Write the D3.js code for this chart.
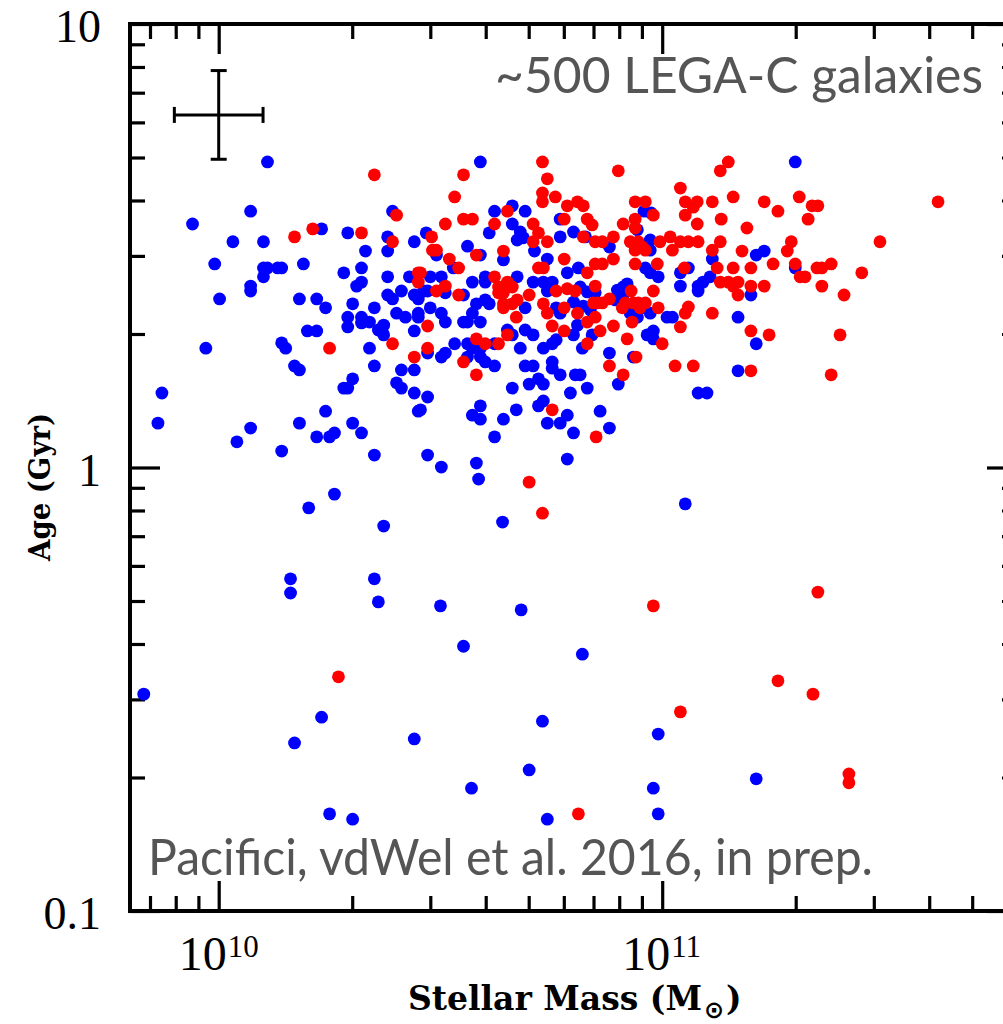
<!DOCTYPE html>
<html>
<head>
<meta charset="utf-8">
<script src="https://cdn.jsdelivr.net/npm/d3@7"></script>
<style>
  html, body { margin: 0; padding: 0; background: #fff; }
  svg { display: block; }
</style>
</head>
<body>
<svg id="chart" width="1003" height="1024"></svg>
<script>
// Each galaxy: [log10 stellar mass (Msun), log10 age (Gyr)]
const blueGalaxies = [
  [10.110,0.689],[10.072,0.578],[10.392,0.578],[9.941,0.549],[10.232,0.538],[10.291,0.529],
  [10.032,0.509],[10.101,0.509],[10.381,0.520],[10.441,0.509],[10.468,0.529],[10.331,0.488],
  [10.381,0.488],[9.991,0.459],[10.191,0.459],[10.101,0.450],[10.110,0.450],[10.133,0.450],
  [10.142,0.450],[10.101,0.430],[10.282,0.439],[10.322,0.450],[10.381,0.430],[10.430,0.430],
  [10.477,0.430],[10.072,0.409],[10.072,0.398],[10.322,0.418],[10.311,0.409],[10.002,0.380],
  [10.182,0.380],[10.221,0.380],[10.241,0.360],[10.302,0.369],[10.381,0.389],[10.392,0.380],
  [10.412,0.398],[10.441,0.389],[10.450,0.380],[10.462,0.398],[10.351,0.360],[10.477,0.360],
  [10.291,0.339],[10.291,0.317],[10.322,0.339],[10.322,0.326],[10.340,0.328],[10.372,0.321],
  [10.360,0.310],[10.372,0.299],[10.401,0.348],[10.421,0.339],[10.450,0.348],[10.450,0.339],
  [10.441,0.308],[10.200,0.308],[10.221,0.308],[10.142,0.281],[10.151,0.269],[9.971,0.269],
  [10.340,0.269],[10.471,0.258],[10.351,0.229],[10.171,0.229],[10.182,0.220],[10.412,0.220],
  [10.441,0.220],[10.302,0.200],[10.282,0.179],[10.291,0.179],[10.401,0.191],[10.412,0.179],
  [10.441,0.168],[10.471,0.159],[9.872,0.168],[10.241,0.127],[10.450,0.127],[9.863,0.100],
  [10.072,0.089],[10.182,0.100],[10.302,0.100],[10.322,0.078],[10.221,0.069],[10.250,0.069],
  [10.261,0.078],[10.041,0.058],[10.142,0.037],[10.351,0.028],[10.471,0.028],
  [10.590,0.689],[10.622,0.578],[10.662,0.590],[10.691,0.578],[10.662,0.549],[10.770,0.560],
  [10.610,0.529],[10.680,0.531],[10.673,0.513],[10.687,0.518],[10.770,0.520],[10.561,0.499],
  [10.491,0.479],[10.590,0.479],[10.642,0.468],[10.712,0.488],[10.741,0.470],[10.529,0.450],
  [10.786,0.439],[10.502,0.430],[10.572,0.418],[10.601,0.430],[10.601,0.418],[10.673,0.430],
  [10.709,0.418],[10.732,0.418],[10.752,0.418],[10.471,0.398],[10.741,0.398],[10.511,0.394],
  [10.552,0.389],[10.601,0.378],[10.610,0.369],[10.581,0.369],[10.691,0.360],[10.761,0.360],
  [10.770,0.348],[10.502,0.348],[10.511,0.328],[10.572,0.348],[10.590,0.328],[10.552,0.328],
  [10.561,0.328],[10.651,0.310],[10.662,0.299],[10.691,0.310],[10.709,0.299],[10.561,0.279],
  [10.572,0.269],[10.590,0.269],[10.622,0.279],[10.532,0.279],[10.680,0.269],[10.732,0.269],
  [10.752,0.279],[10.761,0.288],[10.511,0.258],[10.502,0.249],[10.561,0.249],[10.590,0.249],
  [10.601,0.238],[10.622,0.229],[10.752,0.238],[10.752,0.224],[10.691,0.229],[10.709,0.229],
  [10.770,0.209],[10.700,0.188],[10.721,0.200],[10.732,0.188],[10.662,0.179],[10.455,0.130],
  [10.590,0.139],[10.572,0.118],[10.590,0.109],[10.642,0.109],[10.671,0.130],[10.721,0.139],
  [10.732,0.150],[10.741,0.100],[10.770,0.100],[10.786,0.118],[10.622,0.069],[10.502,0.001],
  [10.581,0.010],[10.786,0.019],
  [10.959,0.578],[10.975,0.574],[10.944,0.536],[10.800,0.531],[10.827,0.520],[10.881,0.497],
  [10.973,0.513],[10.973,0.490],[11.113,0.470],[10.811,0.450],[10.962,0.450],[10.973,0.439],
  [10.991,0.430],[11.059,0.450],[11.041,0.439],[11.041,0.409],[11.108,0.430],[11.092,0.418],
  [11.081,0.409],[11.081,0.398],[10.815,0.407],[10.831,0.396],[10.849,0.394],[10.899,0.400],
  [10.912,0.407],[10.921,0.414],[10.894,0.378],[10.912,0.389],[10.910,0.371],[10.800,0.373],
  [10.822,0.364],[10.838,0.355],[10.928,0.348],[10.944,0.339],[10.973,0.348],[10.955,0.360],
  [11.011,0.339],[11.023,0.339],[10.809,0.321],[10.800,0.299],[10.842,0.299],[10.966,0.299],
  [10.980,0.308],[10.980,0.290],[10.820,0.269],[10.881,0.258],[10.935,0.249],[10.901,0.188],
  [10.804,0.209],[10.815,0.209],[10.793,0.168],[10.831,0.179],[11.081,0.168],[11.101,0.168],
  [10.860,0.127],[10.800,0.078],[10.881,0.089],
  [11.300,0.689],[11.212,0.479],[11.230,0.488],[11.300,0.450],[11.200,0.389],[11.171,0.339],
  [11.212,0.279],[11.171,0.218],
  [10.586,-0.026],[10.261,-0.060],[10.203,-0.091],[10.640,-0.123],[10.372,-0.132],
  [10.162,-0.251],[10.162,-0.283],[10.351,-0.251],[10.360,-0.303],[10.500,-0.312],
  [10.682,-0.321],[10.552,-0.403],[9.831,-0.511],[10.232,-0.563],[10.730,-0.572],
  [10.171,-0.621],[10.441,-0.612],[10.700,-0.682],[10.570,-0.723],[10.250,-0.781],
  [10.302,-0.793],[10.741,-0.793],[11.052,-0.082],[10.820,-0.421],[10.991,-0.601],
  [11.212,-0.702],[10.980,-0.723],[10.991,-0.781]
];

const redGalaxies = [
  [10.351,0.660],[10.401,0.569],[10.212,0.538],[10.171,0.520],[10.322,0.529],[10.392,0.509],
  [10.480,0.520],[10.482,0.490],[10.491,0.490],[10.450,0.439],[10.450,0.418],[10.471,0.319],
  [10.250,0.269],[10.392,0.279],[10.441,0.249],[10.471,0.269],
  [10.730,0.689],[10.552,0.660],[10.741,0.651],[10.532,0.610],[10.730,0.619],[10.730,0.599],
  [10.759,0.610],[10.786,0.590],[10.651,0.578],[10.511,0.549],[10.552,0.560],[10.572,0.560],
  [10.622,0.549],[10.709,0.549],[10.779,0.560],[10.721,0.529],[10.709,0.509],[10.741,0.509],
  [10.581,0.479],[10.642,0.488],[10.779,0.470],[10.520,0.470],[10.541,0.450],[10.721,0.450],
  [10.732,0.450],[10.455,0.439],[10.622,0.430],[10.631,0.407],[10.651,0.418],[10.662,0.407],
  [10.642,0.394],[10.631,0.394],[10.511,0.409],[10.491,0.398],[10.761,0.398],[10.786,0.403],
  [10.541,0.389],[10.700,0.389],[10.673,0.378],[10.642,0.369],[10.662,0.369],[10.642,0.360],
  [10.732,0.369],[10.779,0.360],[10.741,0.348],[10.671,0.339],[10.752,0.319],[10.779,0.308],
  [10.651,0.299],[10.581,0.290],[10.601,0.279],[10.631,0.279],[10.552,0.238],[10.581,0.209],
  [10.752,0.130],
  [10.901,0.669],[11.041,0.630],[10.809,0.599],[10.822,0.590],[10.939,0.599],[10.962,0.599],
  [11.052,0.599],[11.079,0.599],[11.113,0.599],[11.070,0.587],[10.980,0.569],[11.052,0.569],
  [10.831,0.560],[10.842,0.547],[10.912,0.549],[10.939,0.560],[10.939,0.540],[11.079,0.549],
  [10.822,0.520],[10.849,0.509],[10.865,0.509],[10.890,0.520],[10.928,0.509],[10.946,0.509],
  [10.955,0.497],[10.939,0.490],[10.962,0.490],[10.995,0.509],[11.018,0.520],[11.023,0.490],
  [11.041,0.509],[11.059,0.509],[11.081,0.509],[11.113,0.490],[10.849,0.459],[10.865,0.459],
  [10.890,0.470],[10.939,0.459],[10.989,0.459],[10.831,0.439],[11.050,0.450],[10.804,0.398],
  [10.849,0.409],[10.930,0.398],[10.980,0.398],[10.881,0.380],[10.854,0.371],[10.865,0.371],
  [10.845,0.371],[10.809,0.348],[10.831,0.328],[10.849,0.339],[10.917,0.371],[10.935,0.371],
  [10.946,0.371],[10.962,0.371],[10.910,0.360],[10.950,0.360],[10.991,0.360],[11.052,0.348],
  [11.059,0.362],[11.113,0.348],[11.041,0.317],[10.932,0.328],[10.860,0.308],[10.890,0.319],
  [10.921,0.290],[11.000,0.279],[10.831,0.279],[10.941,0.249],[10.881,0.229],[11.029,0.229],
  [11.070,0.229],[10.912,0.209],[10.851,0.069],
  [11.149,0.689],[11.131,0.669],[11.160,0.610],[11.230,0.599],[11.261,0.578],[11.309,0.610],
  [11.338,0.590],[11.351,0.590],[11.133,0.560],[11.191,0.540],[11.329,0.560],[11.131,0.509],
  [11.180,0.488],[11.291,0.509],[11.282,0.488],[11.124,0.450],[11.160,0.450],[11.200,0.450],
  [11.250,0.459],[11.300,0.459],[11.311,0.430],[11.322,0.430],[11.349,0.450],[11.360,0.450],
  [11.381,0.459],[11.450,0.439],[11.131,0.418],[11.149,0.418],[11.171,0.418],[11.160,0.409],
  [11.200,0.409],[11.230,0.409],[11.171,0.389],[11.360,0.409],[11.410,0.389],[11.200,0.308],
  [11.241,0.299],[11.401,0.299],[11.200,0.218],[11.381,0.209],[11.622,0.599],[11.491,0.509],
  [10.700,-0.033],[10.730,-0.103],[10.270,-0.472],[10.980,-0.312],[11.351,-0.281],
  [11.261,-0.481],[11.340,-0.511],[11.041,-0.551],[11.421,-0.691],[11.421,-0.711],
  [10.811,-0.781]
];

// Axis ticks
const xMajorTicks = [1e10, 1e11];
const xMajorExponents = ["10", "11"];
const xMinorTicks = [7e9, 8e9, 9e9, 2e10, 3e10, 4e10, 5e10, 6e10, 7e10, 8e10, 9e10,
                     2e11, 3e11, 4e11, 5e11, 6e11];
const yMajorTicks = [0.1, 1, 10];
const yMajorLabels = ["0.1", "1", "10"];
const yMinorTicks = [0.2, 0.3, 0.4, 0.5, 0.6, 0.7, 0.8, 0.9, 2, 3, 4, 5, 6, 7, 8, 9];

// Typical uncertainty (dex) shown as a cross in the corner
const typicalError = { logMass: 10.0, logAge: 0.795, dex: 0.1 };

const svg = d3.select("#chart");
const plotLeft = 130, plotRight = 1017, plotTop = 24, plotBottom = 911;

const x = d3.scaleLog().domain([10 ** 9.8, 10 ** 11.8]).range([plotLeft, plotRight]);
const y = d3.scaleLog().domain([0.1, 10]).range([plotBottom, plotTop]);

const MAJOR = 30, MINOR = 15;

function tickGroup(axis, transform) {
  const g = svg.append("g").attr("transform", transform).call(axis);
  g.select(".domain").remove();
  g.selectAll(".tick line").attr("stroke", "#000").attr("stroke-width", 3.2);
  g.selectAll(".tick text").remove();
  return g;
}

// Inward-pointing ticks on all four sides
[[xMajorTicks, MAJOR], [xMinorTicks, MINOR]].forEach(([vals, len]) => {
  tickGroup(d3.axisBottom(x).tickValues(vals).tickSize(-len).tickFormat(""), `translate(0,${plotBottom})`);
  tickGroup(d3.axisTop(x).tickValues(vals).tickSize(-len).tickFormat(""), `translate(0,${plotTop})`);
});
[[yMajorTicks, MAJOR], [yMinorTicks, MINOR]].forEach(([vals, len]) => {
  tickGroup(d3.axisLeft(y).tickValues(vals).tickSize(-len).tickFormat(""), `translate(${plotLeft},0)`);
  tickGroup(d3.axisRight(y).tickValues(vals).tickSize(-len).tickFormat(""), `translate(${plotRight},0)`);
});

// Frame
svg.append("rect")
  .attr("x", plotLeft).attr("y", plotTop)
  .attr("width", plotRight - plotLeft).attr("height", plotBottom - plotTop)
  .attr("fill", "none").attr("stroke", "#000").attr("stroke-width", 4);

// Y tick labels
svg.append("g").selectAll("text")
  .data(yMajorTicks)
  .join("text")
  .attr("x", 101)
  .attr("y", d => y(d) + 18)
  .attr("text-anchor", "end")
  .attr("font-family", "'Liberation Serif', serif")
  .attr("font-size", 46)
  .attr("fill", "#000")
  .text((d, i) => yMajorLabels[i]);

// X tick labels: 10^n
const xl = svg.append("g").selectAll("text")
  .data(xMajorTicks)
  .join("text")
  .attr("x", d => x(d) - 40)
  .attr("y", 970)
  .attr("font-family", "'Liberation Serif', serif")
  .attr("font-size", 48)
  .attr("fill", "#000");
xl.append("tspan").text("10");
xl.append("tspan")
  .attr("font-size", 31)
  .attr("dy", -13)
  .attr("dx", 1)
  .text((d, i) => xMajorExponents[i]);

// Axis titles
const titleFont = "'DejaVu Serif', serif";
svg.append("text")
  .attr("x", 408).attr("y", 1010)
  .attr("font-family", titleFont).attr("font-weight", "bold")
  .attr("font-size", 33)
  .attr("textLength", 294).attr("lengthAdjust", "spacingAndGlyphs")
  .text("Stellar Mass (M");
svg.append("text")
  .attr("x", 714).attr("y", 1018)
  .attr("text-anchor", "middle")
  .attr("font-family", "'DejaVu Sans', sans-serif").attr("font-weight", "bold")
  .attr("font-size", 24)
  .text("\u2299");
svg.append("text")
  .attr("x", 726).attr("y", 1010)
  .attr("font-family", titleFont).attr("font-weight", "bold")
  .attr("font-size", 33)
  .text(")");

svg.append("text")
  .attr("transform", "translate(50,487) rotate(-90)")
  .attr("text-anchor", "middle")
  .attr("font-family", titleFont).attr("font-weight", "bold")
  .attr("font-size", 30)
  .attr("textLength", 148).attr("lengthAdjust", "spacingAndGlyphs")
  .text("Age (Gyr)");

// Annotations
svg.append("text")
  .attr("x", 495).attr("y", 93)
  .attr("font-family", "Lato, 'Open Sans', sans-serif")
  .attr("font-size", 50).attr("fill", "#555")
  .attr("textLength", 488).attr("lengthAdjust", "spacingAndGlyphs")
  .text("~500 LEGA-C galaxies");
svg.append("text")
  .attr("x", 148).attr("y", 875)
  .attr("font-family", "Lato, 'Open Sans', sans-serif")
  .attr("font-size", 50).attr("fill", "#555")
  .attr("textLength", 725).attr("lengthAdjust", "spacingAndGlyphs")
  .text("Pacifici, vdWel et al. 2016, in prep.");

// Typical error cross
const ex = x(10 ** typicalError.logMass), ey = y(10 ** typicalError.logAge);
const ex0 = x(10 ** (typicalError.logMass - typicalError.dex));
const ex1 = x(10 ** (typicalError.logMass + typicalError.dex));
const ey0 = y(10 ** (typicalError.logAge - typicalError.dex));
const ey1 = y(10 ** (typicalError.logAge + typicalError.dex));
const cap = 8;
const eb = svg.append("g").attr("stroke", "#000").attr("stroke-width", 3);
eb.append("line").attr("x1", ex0).attr("x2", ex1).attr("y1", ey).attr("y2", ey);
eb.append("line").attr("x1", ex).attr("x2", ex).attr("y1", ey0).attr("y2", ey1);
eb.append("line").attr("x1", ex0).attr("x2", ex0).attr("y1", ey - cap).attr("y2", ey + cap);
eb.append("line").attr("x1", ex1).attr("x2", ex1).attr("y1", ey - cap).attr("y2", ey + cap);
eb.append("line").attr("x1", ex - cap).attr("x2", ex + cap).attr("y1", ey0).attr("y2", ey0);
eb.append("line").attr("x1", ex - cap).attr("x2", ex + cap).attr("y1", ey1).attr("y2", ey1);

// Galaxies
const R = 6.4;
svg.append("g").selectAll("circle")
  .data(blueGalaxies)
  .join("circle")
  .attr("cx", d => x(10 ** d[0]))
  .attr("cy", d => y(10 ** d[1]))
  .attr("r", R)
  .attr("fill", "#0000ff");
svg.append("g").selectAll("circle")
  .data(redGalaxies)
  .join("circle")
  .attr("cx", d => x(10 ** d[0]))
  .attr("cy", d => y(10 ** d[1]))
  .attr("r", R)
  .attr("fill", "#ff0000");
</script>
</body>
</html>
